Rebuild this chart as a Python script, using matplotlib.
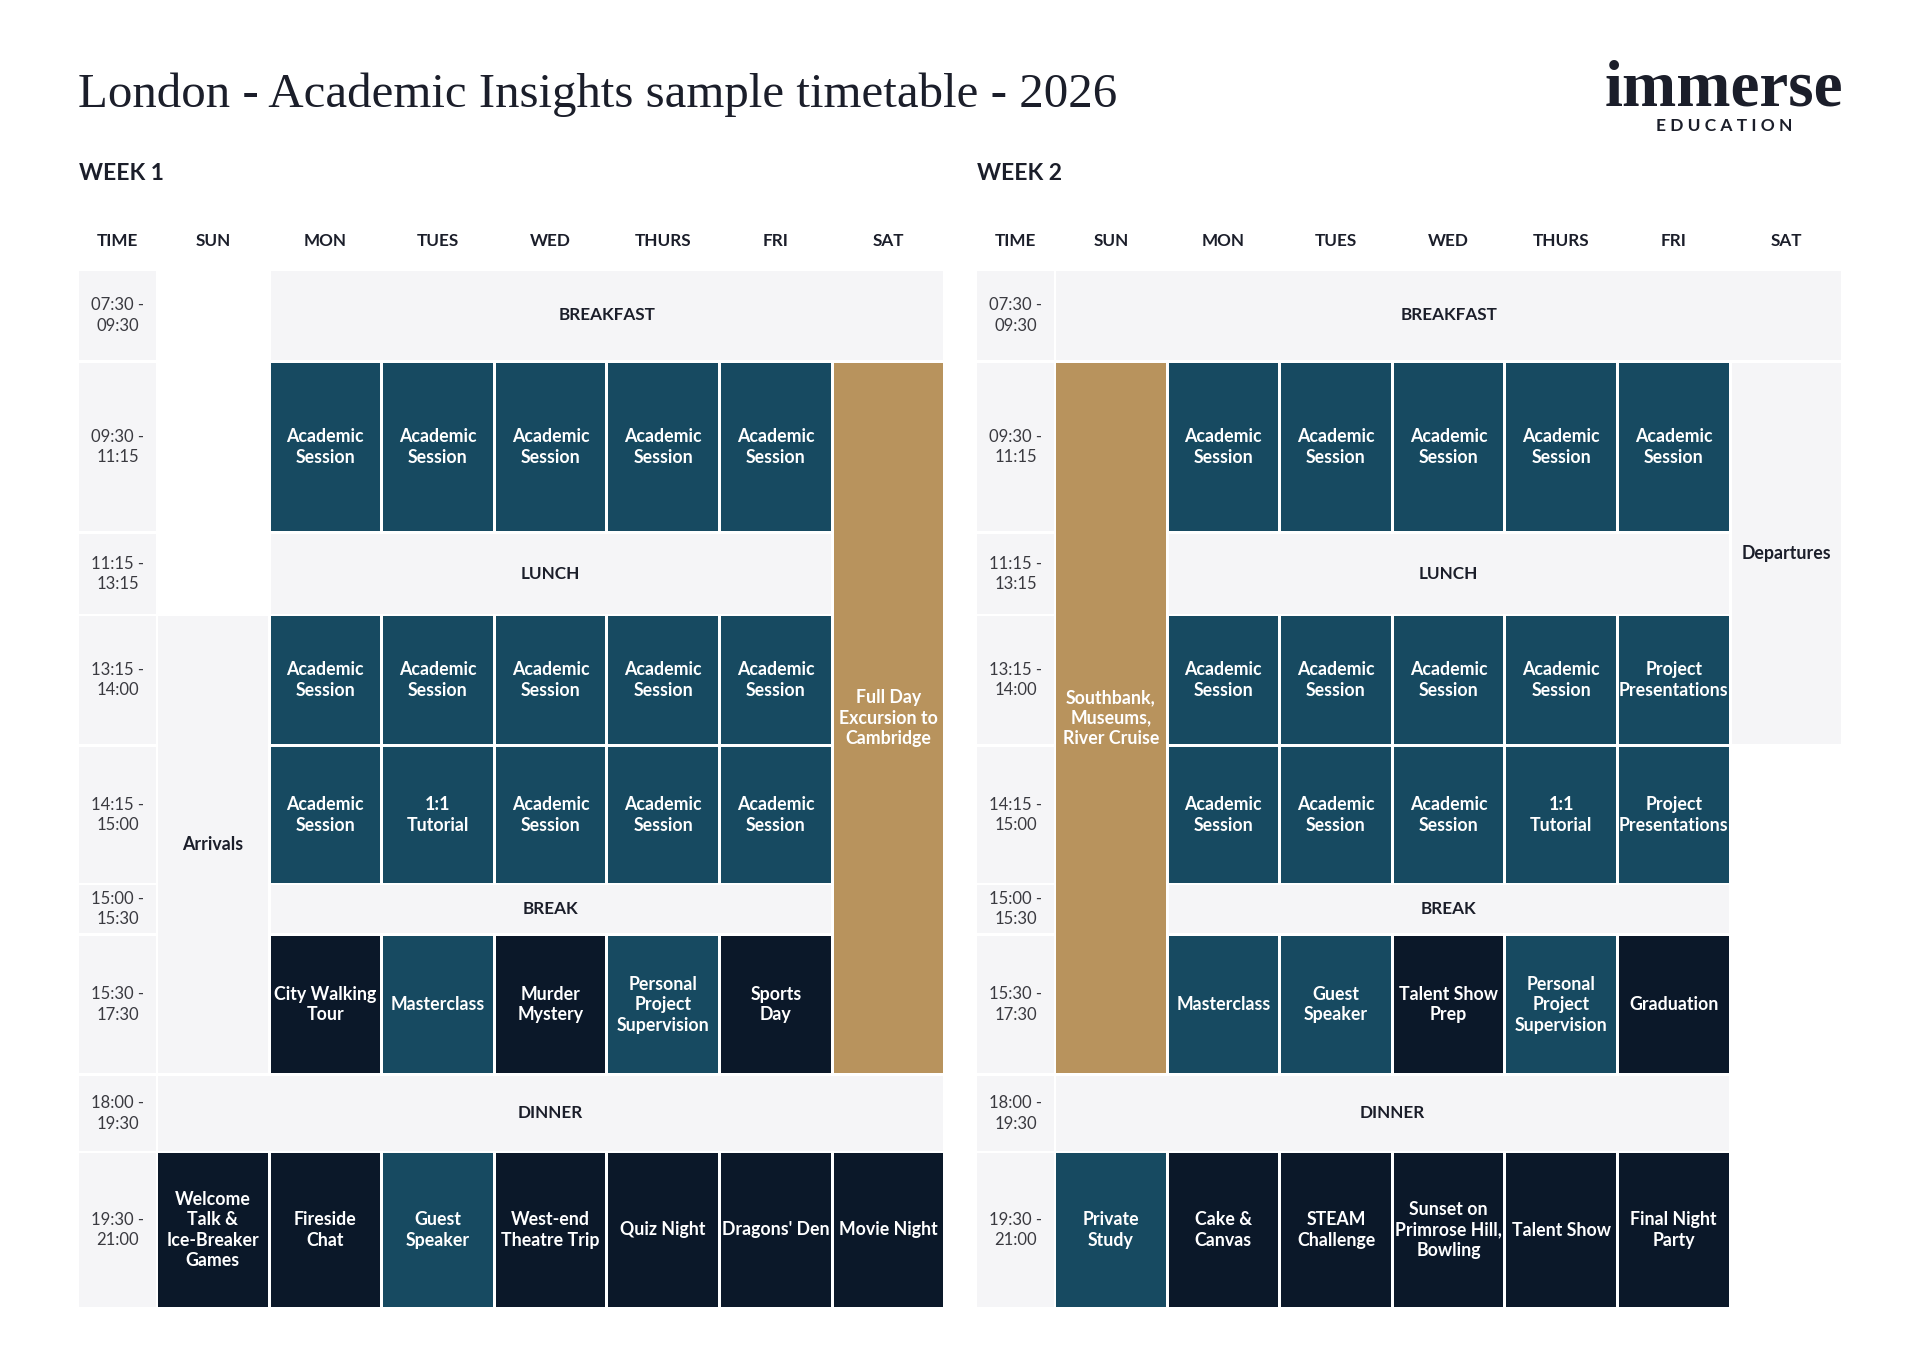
import matplotlib
matplotlib.use("Agg")
import matplotlib.pyplot as plt
from matplotlib.patches import Rectangle

# ---- data ----
title = "London - Academic Insights sample timetable - 2026"
days = ["SUN", "MON", "TUES", "WED", "THURS", "FRI", "SAT"]
time_slots = ["07:30 -\n09:30", "09:30 -\n11:15", "11:15 -\n13:15", "13:15 -\n14:00",
              "14:15 -\n15:00", "15:00 -\n15:30", "15:30 -\n17:30", "18:00 -\n19:30",
              "19:30 -\n21:00"]

# (first row, last row, first day, last day, text, kind)
week1 = [
    (0, 0, 1, 6, "BREAKFAST", "meal"),
    (1, 1, 1, 1, "Academic\nSession", "teal"),
    (1, 1, 2, 2, "Academic\nSession", "teal"),
    (1, 1, 3, 3, "Academic\nSession", "teal"),
    (1, 1, 4, 4, "Academic\nSession", "teal"),
    (1, 1, 5, 5, "Academic\nSession", "teal"),
    (1, 6, 6, 6, "Full Day\nExcursion to\nCambridge", "gold"),
    (2, 2, 1, 5, "LUNCH", "meal"),
    (3, 6, 0, 0, "Arrivals", "light"),
    (3, 3, 1, 1, "Academic\nSession", "teal"),
    (3, 3, 2, 2, "Academic\nSession", "teal"),
    (3, 3, 3, 3, "Academic\nSession", "teal"),
    (3, 3, 4, 4, "Academic\nSession", "teal"),
    (3, 3, 5, 5, "Academic\nSession", "teal"),
    (4, 4, 1, 1, "Academic\nSession", "teal"),
    (4, 4, 2, 2, "1:1\nTutorial", "teal"),
    (4, 4, 3, 3, "Academic\nSession", "teal"),
    (4, 4, 4, 4, "Academic\nSession", "teal"),
    (4, 4, 5, 5, "Academic\nSession", "teal"),
    (5, 5, 1, 5, "BREAK", "meal"),
    (6, 6, 1, 1, "City Walking\nTour", "navy"),
    (6, 6, 2, 2, "Masterclass", "teal"),
    (6, 6, 3, 3, "Murder\nMystery", "navy"),
    (6, 6, 4, 4, "Personal\nProject\nSupervision", "teal"),
    (6, 6, 5, 5, "Sports\nDay", "navy"),
    (7, 7, 0, 6, "DINNER", "meal"),
    (8, 8, 0, 0, "Welcome\nTalk &\nIce-Breaker\nGames", "navy"),
    (8, 8, 1, 1, "Fireside\nChat", "navy"),
    (8, 8, 2, 2, "Guest\nSpeaker", "teal"),
    (8, 8, 3, 3, "West-end\nTheatre Trip", "navy"),
    (8, 8, 4, 4, "Quiz Night", "navy"),
    (8, 8, 5, 5, "Dragons' Den", "navy"),
    (8, 8, 6, 6, "Movie Night", "navy"),
]

week2 = [
    (0, 0, 0, 6, "BREAKFAST", "meal"),
    (1, 6, 0, 0, "Southbank,\nMuseums,\nRiver Cruise", "gold"),
    (1, 1, 1, 1, "Academic\nSession", "teal"),
    (1, 1, 2, 2, "Academic\nSession", "teal"),
    (1, 1, 3, 3, "Academic\nSession", "teal"),
    (1, 1, 4, 4, "Academic\nSession", "teal"),
    (1, 1, 5, 5, "Academic\nSession", "teal"),
    (1, 3, 6, 6, "Departures", "light"),
    (2, 2, 1, 5, "LUNCH", "meal"),
    (3, 3, 1, 1, "Academic\nSession", "teal"),
    (3, 3, 2, 2, "Academic\nSession", "teal"),
    (3, 3, 3, 3, "Academic\nSession", "teal"),
    (3, 3, 4, 4, "Academic\nSession", "teal"),
    (3, 3, 5, 5, "Project\nPresentations", "teal"),
    (4, 4, 1, 1, "Academic\nSession", "teal"),
    (4, 4, 2, 2, "Academic\nSession", "teal"),
    (4, 4, 3, 3, "Academic\nSession", "teal"),
    (4, 4, 4, 4, "1:1\nTutorial", "teal"),
    (4, 4, 5, 5, "Project\nPresentations", "teal"),
    (5, 5, 1, 5, "BREAK", "meal"),
    (6, 6, 1, 1, "Masterclass", "teal"),
    (6, 6, 2, 2, "Guest\nSpeaker", "teal"),
    (6, 6, 3, 3, "Talent Show\nPrep", "navy"),
    (6, 6, 4, 4, "Personal\nProject\nSupervision", "teal"),
    (6, 6, 5, 5, "Graduation", "navy"),
    (7, 7, 0, 5, "DINNER", "meal"),
    (8, 8, 0, 0, "Private\nStudy", "teal"),
    (8, 8, 1, 1, "Cake &\nCanvas", "navy"),
    (8, 8, 2, 2, "STEAM\nChallenge", "navy"),
    (8, 8, 3, 3, "Sunset on\nPrimrose Hill,\nBowling", "navy"),
    (8, 8, 4, 4, "Talent Show", "navy"),
    (8, 8, 5, 5, "Final Night\nParty", "navy"),
]

# ---- layout / style (pixel units of the 1920x1357 canvas) ----
colors = {"teal": "#174a61", "navy": "#0b1829", "gold": "#b8935d",
          "meal": "#f5f5f7", "light": "#f5f5f7"}
text_colors = {"teal": "white", "navy": "white", "gold": "white",
               "meal": "#1b1e2a", "light": "#1b1e2a"}
row_top = [271, 363, 534, 616, 747, 885, 936, 1076, 1153]
row_bot = [360, 531, 614, 744, 883, 933, 1073, 1151, 1307]
time_w = 77
col_off = 79
pitch = 112.6
col_w = 109.6
sans = "Lato"
ink = "#1b1e2a"

fig = plt.figure(figsize=(19.2, 13.57), dpi=100)
ax = fig.add_axes([0, 0, 1, 1])
ax.set_xlim(0, 1920)
ax.set_ylim(1357, 0)
ax.axis("off")


def col_x(x0, c):
    return x0 + col_off + pitch * c


def draw_week(x0, label, cells):
    ax.text(x0, 174, label, fontsize=16.5, fontweight="bold", family=sans,
            color=ink, ha="left", va="center")
    ax.text(x0 + time_w / 2, 241, "TIME", fontsize=12.3, fontweight="bold", family=sans,
            color=ink, ha="center", va="center")
    for i, d in enumerate(days):
        ax.text(col_x(x0, i) + col_w / 2, 241, d, fontsize=12.3, fontweight="bold",
                family=sans, color=ink, ha="center", va="center")
    for r, t in enumerate(time_slots):
        ax.add_patch(Rectangle((x0, row_top[r]), time_w, row_bot[r] - row_top[r],
                               facecolor="#f5f5f7", edgecolor="none"))
        ax.text(x0 + time_w / 2, (row_top[r] + row_bot[r]) / 2, t, fontsize=12,
                family=sans, color="#3a3a40", ha="center", va="center",
                linespacing=1.32)
    for r0, r1, c0, c1, txt, kind in cells:
        xa = col_x(x0, c0)
        xb = col_x(x0, c1) + col_w
        ya = row_top[r0]
        yb = row_bot[r1]
        ax.add_patch(Rectangle((xa, ya), xb - xa, yb - ya,
                               facecolor=colors[kind], edgecolor="none"))
        size = 12.3 if kind == "meal" else 12.8
        ax.text((xa + xb) / 2, (ya + yb) / 2, txt, fontsize=size, fontweight="bold",
                family=sans, color=text_colors[kind], ha="center", va="center",
                linespacing=1.25)


draw_week(79, "WEEK 1", week1)
draw_week(977, "WEEK 2", week2)

ax.text(78, 107, title, fontsize=35.2, family="Liberation Serif", color=ink,
        ha="left", va="baseline")
ax.text(1843, 105, "immerse", fontsize=46.8, fontweight="bold", family="Liberation Serif",
        color=ink, ha="right", va="baseline")
ax.text(1724, 126, "E D U C A T I O N", fontsize=12.5, fontweight="bold", family=sans,
        color=ink, ha="center", va="center")

fig.savefig("out.png", dpi=100, facecolor="white")
